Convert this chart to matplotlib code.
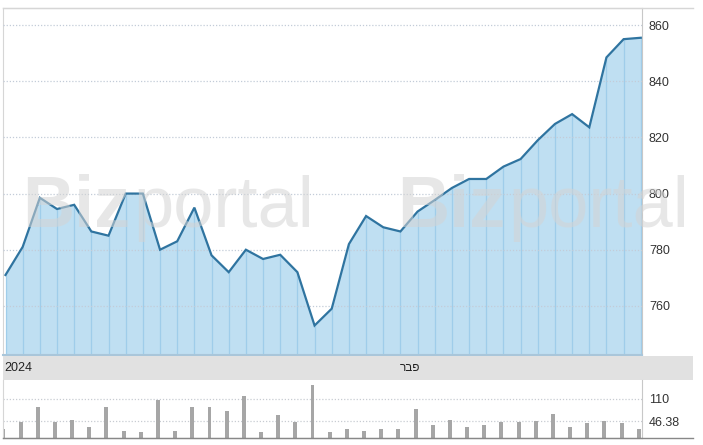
import numpy as np
import matplotlib.pyplot as plt
from matplotlib.lines import Line2D

plt.rcParams['font.family'] = ['Liberation Sans', 'DejaVu Sans']

# closing prices, one per trading day
prices = [771, 781, 798.5, 794.5, 796, 786.5, 785, 800, 800, 780,
          783, 795, 778, 772, 780, 776.7, 778.2, 772, 753, 759,
          782, 792, 788, 786.5, 793.6, 797.7, 802, 805.2, 805.2, 809.6,
          812.3, 819, 824.8, 828.3, 823.6, 848.5, 855, 855.5]
# traded volume per day
volumes = [25, 45, 88, 45, 51, 32, 88, 20, 16, 106,
           20, 86, 86, 75, 117, 16, 64, 45, 149, 16,
           26, 20, 26, 26, 82, 36, 51, 30, 36, 46,
           45, 48, 68, 30, 42, 48, 41, 26]
price_ticks = [760, 780, 800, 820, 840, 860]
vol_ticks = [110, 46.38]
month_labels = ['2024', 'פבר']
month_pos = [-0.05, 23.55]

W, H = 703, 445
fig = plt.figure(figsize=(W / 100, H / 100), dpi=100)


def box(x0, y0, x1, y1):
    # pixel box (top-left origin) -> figure fraction rect
    return [x0 / W, 1 - y1 / H, (x1 - x0) / W, (y1 - y0) / H]


x = np.arange(len(prices))
xlim = (-0.146, 37.07)

# %% price panel
ax = fig.add_axes(box(3, 8, 642, 355))
ax.set_xlim(*xlim)
ax.set_ylim(742.5, 866.1)
ax.fill_between(x, prices, 700, color='#bfdff2', lw=0, zorder=1)
ax.vlines(x, 700, prices, color='#9fcdea', lw=0.9, zorder=2)
for t in price_ticks:
    ax.axhline(t, color='#c3ccd8', lw=0.9, ls=(0, (1, 1.5)), zorder=3)
ax.plot(x, prices, color='#2f74a0', lw=1.6, zorder=4, solid_joinstyle='miter')
ax.set_yticks(price_ticks)
ax.yaxis.tick_right()
ax.tick_params(axis='y', length=0, pad=5, labelsize=9, labelcolor='#333333')
ax.set_xticks([])
for s in ['left', 'top']:
    ax.spines[s].set_color('#d6d6d6')
ax.spines['right'].set_color('#c8c8c8')
ax.spines['bottom'].set_color('#a9c6da')
ax.spines['bottom'].set_linewidth(1.5)

# watermark
for x0 in [22, 397]:
    tb = fig.text(x0 / W, 1 - 227 / H, 'Biz', fontsize=52, fontweight='bold',
                  color='#d4d4d4', alpha=0.55, zorder=5)
    fig.text((x0 + 111) / W, 1 - 227 / H, 'portal', fontsize=52,
             color='#d4d4d4', alpha=0.55, zorder=5)

# %% month band
axb = fig.add_axes(box(3, 356, 693, 380))
axb.set_facecolor('#e1e1e1')
axb.set_xlim(xlim[0], xlim[0] + (xlim[1] - xlim[0]) * 690 / 639)
axb.set_ylim(0, 1)
axb.set_xticks([])
axb.set_yticks([])
for s in axb.spines.values():
    s.set_visible(False)
axb.text(month_pos[0], 0.5, month_labels[0], ha='left', va='center',
         fontsize=9, color='#222222')
# matplotlib has no bidi, so reverse the Hebrew label for display
axb.text(month_pos[1], 0.5, month_labels[1][::-1], ha='center', va='center',
         fontsize=8.5, color='#222222')

# %% volume panel
axv = fig.add_axes(box(3, 380, 642, 438))
axv.set_xlim(*xlim)
axv.set_ylim(0, 163)
for t in vol_ticks:
    axv.axhline(t, color='#c8ccd2', lw=0.9, ls=(0, (1, 1.5)), zorder=1)
axv.bar(x - 0.12, volumes, width=0.23, color='#a6a6a6', zorder=2)
axv.set_yticks(vol_ticks)
axv.set_yticklabels(['110', '46.38'])
axv.yaxis.tick_right()
axv.tick_params(axis='y', length=0, pad=5, labelsize=9, labelcolor='#333333')
axv.set_xticks([])
axv.spines['top'].set_visible(False)
axv.spines['left'].set_color('#d6d6d6')
axv.spines['right'].set_color('#c8c8c8')
axv.spines['bottom'].set_color('#888888')

# frame lines extending to the right edge
fig.add_artist(Line2D([3 / W, 693 / W], [1 - 8 / H, 1 - 8 / H],
                      color='#d6d6d6', lw=1))
fig.add_artist(Line2D([3 / W, 693 / W], [1 - 438 / H, 1 - 438 / H],
                      color='#888888', lw=1))

fig.savefig('out.png', dpi=100)
